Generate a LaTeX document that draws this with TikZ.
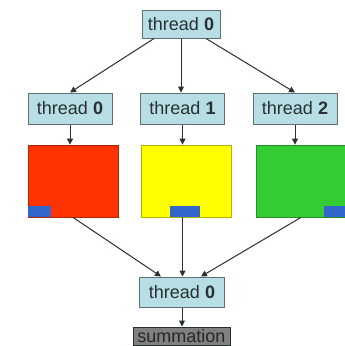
\documentclass[tikz,border=0pt]{standalone}
\usepackage{fontspec}
\setmainfont{Liberation Sans}
\definecolor{boxcyan}{RGB}{183, 222, 228}
\definecolor{boxedge}{RGB}{95, 112, 115}
\definecolor{inkgray}{RGB}{40, 48, 50}
\definecolor{memred}{RGB}{255, 51, 0}
\definecolor{memyellow}{RGB}{255, 255, 0}
\definecolor{memgreen}{RGB}{51, 204, 51}
\definecolor{slotblue}{RGB}{51, 102, 204}
\definecolor{sumgray}{RGB}{128, 128, 128}
\usetikzlibrary{arrows.meta}

\tikzset{
  thread/.style={draw=boxedge, fill=boxcyan, line width=1pt, text=inkgray,
    minimum width=84, minimum height=31, inner sep=0pt,
    font=\fontsize{18}{20}\selectfont},
  mem/.style={draw=#1!70!black, fill=#1, line width=0.8pt,
    minimum width=90, minimum height=72, inner sep=0pt},
  slot/.style={fill=slotblue, minimum height=11, inner sep=0pt},
  link/.style={-{Triangle[length=6pt, width=6pt]}, line width=1pt, draw=inkgray}
}

\begin{document}
\begin{tikzpicture}[x=1pt, y=-1pt]
  \useasboundingbox (0,0) rectangle (345,346);

  % Master thread
  \node[thread, minimum width=78, minimum height=28] (top) at (181, 24) {thread \textbf{0}};

  % Worker threads
  \node[thread] (t0) at (70, 108.5) {thread \textbf{0}};
  \node[thread] (t1) at (182.5, 108.5) {thread \textbf{1}};
  \node[thread] (t2) at (295, 108.5) {thread \textbf{2}};

  % Memory blocks, one per worker
  \node[mem=memred] (mem0) at (73, 181) {};
  \node[mem=memyellow] (mem1) at (186.5, 181) {};
  \node[mem=memgreen] (mem2) at (301, 181) {};

  % Partial result slots
  \node[slot, minimum width=23, anchor=south west] (s0) at (mem0.south west) {};
  \node[slot, minimum width=30, anchor=south] (s1) at ([xshift=-1.5pt]mem1.south) {};
  \node[slot, minimum width=22, anchor=south east] (s2) at (mem2.south east) {};

  % Reduction
  \node[thread, minimum width=85, minimum height=30] (b0) at (182, 292) {thread \textbf{0}};
  \node[draw=inkgray, fill=sumgray, line width=1pt, text=black!85,
    minimum width=97, minimum height=18, inner sep=0pt,
    font=\fontsize{18}{19}\selectfont] (sum) at (181.5, 336) {summation};

  % Fork
  \draw[link] ([xshift=-27pt]top.south) -- (t0.north);
  \draw[link] (top.south) -- (t1.north -| top.south);
  \draw[link] ([xshift=25pt]top.south) -- (t2.north);

  \draw[link] (t0.south) -- (t0.south |- mem0.north);
  \draw[link] (t1.south) -- (t1.south |- mem1.north);
  \draw[link] (t2.south) -- (t2.south |- mem2.north);

  % Join
  \draw[link] (mem0.south) -- ([xshift=-21pt]b0.north);
  \draw[link] (t1.south |- mem1.south) -- (t1.south |- b0.north);
  \draw[link] (mem2.south) -- ([xshift=19pt]b0.north);

  \draw[link] (b0.south) -- (sum.north -| b0.south);
\end{tikzpicture}
\end{document}
